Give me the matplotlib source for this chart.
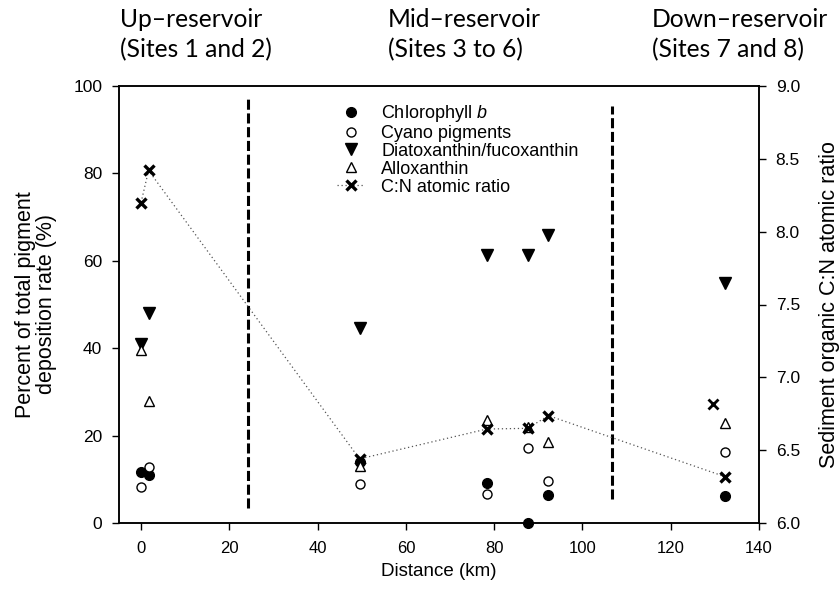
import matplotlib
matplotlib.use("Agg")
import matplotlib.pyplot as plt

plt.rcParams['font.family'] = ['Liberation Sans', 'DejaVu Sans']
plt.rcParams['mathtext.fontset'] = 'custom'
plt.rcParams['mathtext.rm'] = 'Liberation Sans'
plt.rcParams['mathtext.it'] = 'Liberation Sans:italic'

# pigment samples: distance along reservoir (km) and % of total deposition rate
distance = [0, 1.7, 49.5, 78.3, 87.6, 92.3, 132.3]
chl_b = [11.7, 11.0, 14.0, 9.1, 0.0, 6.3, 6.2]
cyano = [8.3, 12.9, 8.9, 6.6, 17.1, 9.5, 16.3]
diato = [41.0, 48.0, 44.6, 61.3, 61.3, 66.0, 54.9]
allox = [39.5, 28.0, 13.0, 23.5, 22.0, 18.6, 22.8]

# sediment C:N atomic ratio (right axis)
cn_distance = [0, 1.7, 49.5, 78.3, 87.6, 92.3, 132.3]
cn_ratio = [8.20, 8.42, 6.44, 6.645, 6.65, 6.737, 6.318]
cn_extra_distance = [129.5]   # not joined by the line
cn_extra_ratio = [6.82]

# reservoir zone boundaries (km) and their vertical extent (%)
zone_bounds = [24.3, 106.6]
zone_extent = [(3.4, 97.0), (5.5, 95.5)]

zone_line1 = ["Up\u2013reservoir", "Mid\u2013reservoir", "Down\u2013reservoir"]
zone_line2 = ["(Sites 1 and 2)", "(Sites 3 to 6)", "(Sites 7 and 8)"]
zone_text_x = [120, 388, 652]   # pixels

W, H = 839, 600
fig = plt.figure(figsize=(W / 100, H / 100), dpi=100)
ax = fig.add_axes([119 / W, 1 - 523 / H, 640 / W, 437 / H])
ax2 = ax.twinx()

for xb, (y0, y1) in zip(zone_bounds, zone_extent):
    ax.plot([xb, xb], [y0, y1], color='black', lw=2.2, dashes=(3.3, 1.2))

ax.plot(distance, chl_b, 'o', color='black', ms=7, clip_on=False,
        label='Chlorophyll $\\it{b}$', zorder=3)
ax.plot(distance, cyano, 'o', mfc='white', mec='black', mew=1, ms=6.5,
        label='Cyano pigments', zorder=3)
ax.plot(distance, diato, 'v', color='black', ms=8,
        label='Diatoxanthin/fucoxanthin', zorder=3)
ax.plot(distance, allox, '^', mfc='white', mec='black', mew=1, ms=7.5,
        label='Alloxanthin', zorder=3)

cn_line, = ax2.plot(cn_distance, cn_ratio, color='#555555', lw=0.9,
                    dashes=(1, 2.2), marker='x', ms=7, mew=2.4,
                    mec='black', label='C:N atomic ratio')
ax2.plot(cn_extra_distance, cn_extra_ratio, 'x', color='black', ms=7, mew=2)

ax.set_xlim(-5, 140)
ax.set_ylim(0, 100)
ax2.set_ylim(6, 9)
ax.set_xticks(range(0, 141, 20))
ax.set_yticks(range(0, 101, 20))
ax2.set_yticks([6.0, 6.5, 7.0, 7.5, 8.0, 8.5, 9.0])
ax2.set_yticklabels(['6.0', '6.5', '7.0', '7.5', '8.0', '8.5', '9.0'])

for a in (ax, ax2):
    a.tick_params(labelsize=12.5, length=5, width=1, pad=7)
    for s in a.spines.values():
        s.set_linewidth(1.1)
ax.tick_params(axis='x', labelsize=12, pad=8)

fig.text(439 / W, 1 - 572 / H, 'Distance (km)', fontsize=13.5,
         ha='center', va='center')
fig.text(36 / W, 1 - 304.5 / H, 'Percent of total pigment\ndeposition rate (%)',
         fontsize=15.5, rotation=90, ha='center', va='center',
         multialignment='center', linespacing=1.0)
fig.text(829 / W, 1 - 304.5 / H, 'Sediment organic C:N atomic ratio',
         fontsize=15.5, rotation=90, ha='center', va='center')

handles, labels = ax.get_legend_handles_labels()
handles.append(cn_line)
labels.append(cn_line.get_label())
leg = ax2.legend(handles, labels, loc='upper left',
                 bbox_to_anchor=(337 / W, 1 - 103 / H),
                 bbox_transform=fig.transFigure, frameon=False, fontsize=13,
                 handlelength=1.55, handletextpad=0.9, labelspacing=0.05,
                 borderpad=0, borderaxespad=0)

for t1, t2, px in zip(zone_line1, zone_line2, zone_text_x):
    fig.text(px / W, 1 - 27 / H, t1, ha='left', va='baseline', fontsize=17.7,
             family=['Lato', 'DejaVu Sans'])
    fig.text(px / W, 1 - 57 / H, t2, ha='left', va='baseline', fontsize=17.7,
             family=['Lato', 'DejaVu Sans'])

fig.savefig('out.png', dpi=100)
